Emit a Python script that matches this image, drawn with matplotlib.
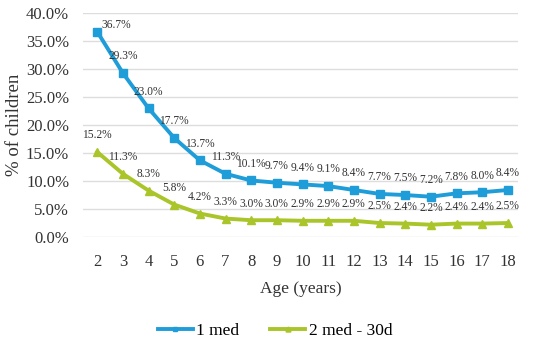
import matplotlib.pyplot as plt
from matplotlib.ticker import PercentFormatter

ages = list(range(2, 19))
one_med = [36.7, 29.3, 23.0, 17.7, 13.7, 11.3, 10.1, 9.7, 9.4, 9.1, 8.4, 7.7, 7.5, 7.2, 7.8, 8.0, 8.4]
two_med = [15.2, 11.3, 8.3, 5.8, 4.2, 3.3, 3.0, 3.0, 2.9, 2.9, 2.9, 2.5, 2.4, 2.2, 2.4, 2.4, 2.5]

blue = "#1F9DD9"
green = "#A9C52A"

plt.rcParams["font.family"] = ["Liberation Serif", "DejaVu Serif"]

fig = plt.figure(figsize=(5.5, 3.45), dpi=100)
ax = fig.add_axes([0.151, 0.313, 0.791, 0.649])

ax.plot(ages, one_med, color=blue, lw=2.8, marker="s", ms=6, label="1 med", zorder=3)
ax.plot(ages, two_med, color=green, lw=2.8, marker="^", ms=6, label="2 med - 30d", zorder=3)

# data labels above points (first blue one sits to the right)
for i, (x, y) in enumerate(zip(ages, one_med)):
    off = (14, 4.5) if i == 0 else (0, 12)
    ax.annotate(f"{y:.1f}%", (x, y), xytext=off, textcoords="offset points",
                ha="center", va="center", fontsize=8.3, color="#333333")
for x, y in zip(ages, two_med):
    ax.annotate(f"{y:.1f}%", (x, y), xytext=(0, 12), textcoords="offset points",
                ha="center", va="center", fontsize=8.3, color="#333333")

ax.set_xlim(1.45, 18.4)
ax.set_ylim(0, 40)
ax.set_yticks(range(0, 41, 5))
ax.yaxis.set_major_formatter(PercentFormatter(decimals=1))
ax.set_xticks(ages)
ax.grid(axis="y", color="#DDDDDD", lw=1)
ax.set_axisbelow(True)
for s in ax.spines.values():
    s.set_visible(False)
ax.tick_params(length=0, labelsize=12, colors="#333333")
ax.tick_params(axis="x", pad=12)
ax.tick_params(axis="y", pad=10)
ax.set_xlabel("Age (years)", fontsize=12.5, color="#333333", labelpad=8)
ax.set_ylabel("% of children", fontsize=13.5, color="#333333", labelpad=2)

fig.legend(loc="center", bbox_to_anchor=(0.5, 0.04), ncol=2, frameon=False,
           fontsize=12.5, handlelength=2.0, columnspacing=1.8, handletextpad=0.2,
           markerscale=0.6)

fig.savefig("out.png", dpi=100)
